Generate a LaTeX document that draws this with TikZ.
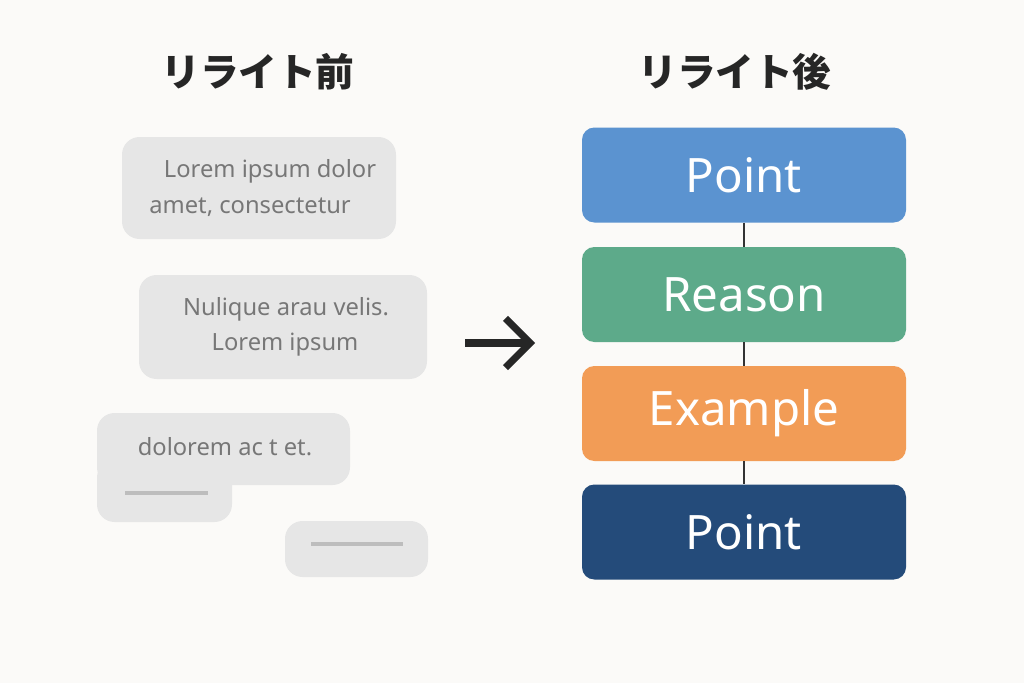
\documentclass[tikz,border=0pt]{standalone}
\usepackage{fontspec}
\setmainfont{Noto Sans}
\newfontfamily\cjk{Noto Sans CJK JP}
\usetikzlibrary{arrows.meta}
\definecolor{bg}{HTML}{FBFAF8}
\definecolor{gbox}{HTML}{E6E6E6}
\definecolor{gtext}{HTML}{777777}
\definecolor{gline}{HTML}{BDBDBD}
\definecolor{cA}{HTML}{5B93D0}
\definecolor{cB}{HTML}{5DAA8A}
\definecolor{cC}{HTML}{F29C56}
\definecolor{cD}{HTML}{244B7A}
\begin{document}
\begin{tikzpicture}[x=0.02cm,y=-0.02cm,
 title/.style={font=\cjk\bfseries\fontsize{22}{26}\selectfont,text=black!85},
 gb/.style={fill=gbox,rounded corners=10pt,draw=none},
 gt/.style={font=\fontsize{13.5}{16}\selectfont,text=gtext,inner sep=0},
 pbox/.style={rounded corners=7pt,minimum width=324*0.02cm,minimum height=95*0.02cm,text=white,font=\fontsize{27}{30}\selectfont\bfseries},
 conn/.style={draw=black!80,line width=1.5pt}]
\fill[bg] (0,0) rectangle (1024,683);
\useasboundingbox (0,0) rectangle (1024,683);
\node[title] (t1) at (258,72) {リライト前};
\node[title] (t2) at (735,72) {リライト後};
\fill[gb] (122,137) rectangle (396,239);
\node[gt] (l1) at (270,171) {Lorem ipsum dolor};
\node[gt,anchor=west] (l2) at (149,207) {amet, consectetur};
\fill[gb] (139,275) rectangle (427,379);
\node[gt] (l3) at (286,309) {Nulique arau velis.};
\node[gt] (l4) at (285,345) {Lorem ipsum};
\fill[gb] (97,413) rectangle (350,485);
\fill[gb] (97,460) rectangle (232,522);
\node[gt] (l5) at (225,447) {dolorem ac t et.};
\draw[gline,line width=2pt] (125,493) -- (208,493);
\fill[gb] (285,521) rectangle (428,577);
\draw[gline,line width=2pt] (311,544) -- (403,544);
\coordinate (a1) at (465,343); \coordinate (a2) at (535,343);
\draw[line width=4pt,black!85,-{Straight Barb[length=14pt,width=28pt,line width=4pt]}] (a1) -- (a2);
\node[pbox,fill=cA] (p1) at (744,175) {Point};
\node[pbox,fill=cB] (p2) at (744,294.5) {Reason};
\node[pbox,fill=cC] (p3) at (744,413.5) {Example};
\node[pbox,fill=cD] (p4) at (744,532) {Point};
\draw[conn] (p1) -- (p2); \draw[conn] (p2) -- (p3); \draw[conn] (p3) -- (p4);
\end{tikzpicture}
\end{document}
